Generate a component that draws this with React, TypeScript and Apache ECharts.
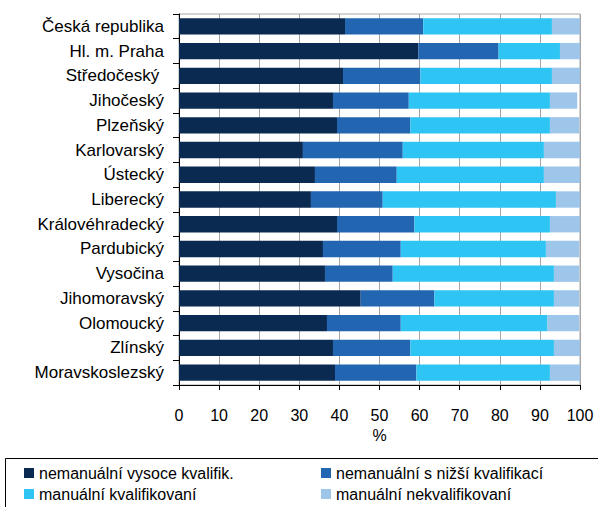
import React, { useEffect, useRef } from "react";
import * as echarts from "echarts";

const categories = [
  "Česká republika",
  "Hl. m. Praha",
  "Středočeský ",
  "Jihočeský",
  "Plzeňský",
  "Karlovarský",
  "Ústecký",
  "Liberecký",
  "Královéhradecký",
  "Pardubický",
  "Vysočina",
  "Jihomoravský",
  "Olomoucký",
  "Zlínský",
  "Moravskoslezský",
];

const seriesNames = [
  "nemanuální vysoce kvalifik.",
  "nemanuální s nižší kvalifikací",
  "manuální kvalifikovaní",
  "manuální nekvalifikovaní",
];

const highQualNonManual = [41.4, 59.7, 40.9, 38.4, 39.4, 30.9, 33.9, 32.9, 39.4, 35.9, 36.4, 45.3, 36.9, 38.4, 38.9];
const lowQualNonManual = [19.5, 20.0, 19.3, 18.9, 18.3, 24.9, 20.4, 17.9, 19.3, 19.4, 16.9, 18.4, 18.4, 19.3, 20.3];
const qualifiedManual = [32.1, 15.3, 32.8, 35.2, 34.8, 35.2, 36.7, 43.2, 33.8, 36.2, 40.2, 29.8, 36.6, 35.8, 33.3];
const unqualifiedManual = [7.0, 5.0, 7.0, 6.8, 7.3, 9.0, 9.0, 6.0, 7.5, 8.3, 6.3, 6.3, 7.9, 6.5, 7.5];

const xTicks = { min: 0, max: 100, interval: 10 };
const colors = ["#0b2a52", "#2266b2", "#2ec5f4", "#9dc6ea"];

export default function App() {
  const ref = useRef<HTMLDivElement>(null);
  useEffect(() => {
    if (!ref.current) return;
    const chart = echarts.init(ref.current, null, { renderer: "svg" });
    const values = [highQualNonManual, lowQualNonManual, qualifiedManual, unqualifiedManual];
    const font = "'Liberation Sans', Arial, sans-serif";
    const legendPos = [
      { left: 24, top: 465 },
      { left: 321, top: 465 },
      { left: 24, top: 486 },
      { left: 321, top: 486 },
    ];
    chart.setOption({
      animation: false,
      textStyle: { fontFamily: font },
      grid: {
        left: 179,
        right: 18,
        top: 14,
        bottom: 122,
        show: true,
        borderColor: "#a6a6a6",
        borderWidth: 1,
      },
      xAxis: {
        type: "value",
        min: xTicks.min,
        max: xTicks.max,
        interval: xTicks.interval,
        name: "%",
        nameLocation: "middle",
        nameGap: 40,
        nameTextStyle: { color: "#000", fontSize: 16, fontFamily: font },
        axisLine: { show: true, lineStyle: { color: "#000", width: 1 } },
        axisTick: { show: true, length: 5, lineStyle: { color: "#000" } },
        axisLabel: { color: "#000", fontSize: 16, margin: 22, fontFamily: font },
        splitLine: { show: true, lineStyle: { color: "#a6a6a6", width: 1 } },
      },
      yAxis: {
        type: "category",
        data: categories,
        inverse: true,
        axisLine: { show: true, lineStyle: { color: "#000", width: 1 } },
        axisTick: { show: true, length: 6, lineStyle: { color: "#000" } },
        axisLabel: { color: "#000", fontSize: 17, margin: 15, fontFamily: font },
        splitLine: { show: false },
      },
      legend: seriesNames.map((n, i) => ({
        data: [n],
        left: legendPos[i].left,
        top: legendPos[i].top,
        itemWidth: 10,
        itemHeight: 10,
        icon: "rect",
        itemGap: 4,
        padding: 0,
        textStyle: { color: "#000", fontSize: 16, fontFamily: font },
      })),
      graphic: [
        {
          type: "rect",
          shape: { x: 5.5, y: 458.5, width: 600, height: 60 },
          style: { fill: "none", stroke: "#000", lineWidth: 1 },
        },
      ],
      series: seriesNames.map((n, i) => ({
        name: n,
        type: "bar",
        stack: "total",
        data: values[i],
        barCategoryGap: "34%",
        itemStyle: { color: colors[i] },
      })),
    });
    return () => chart.dispose();
  }, []);
  return (
    <div
      ref={ref}
      style={{ position: "fixed", left: 0, top: 0, width: 598, height: 507, background: "#fff" }}
    />
  );
}
